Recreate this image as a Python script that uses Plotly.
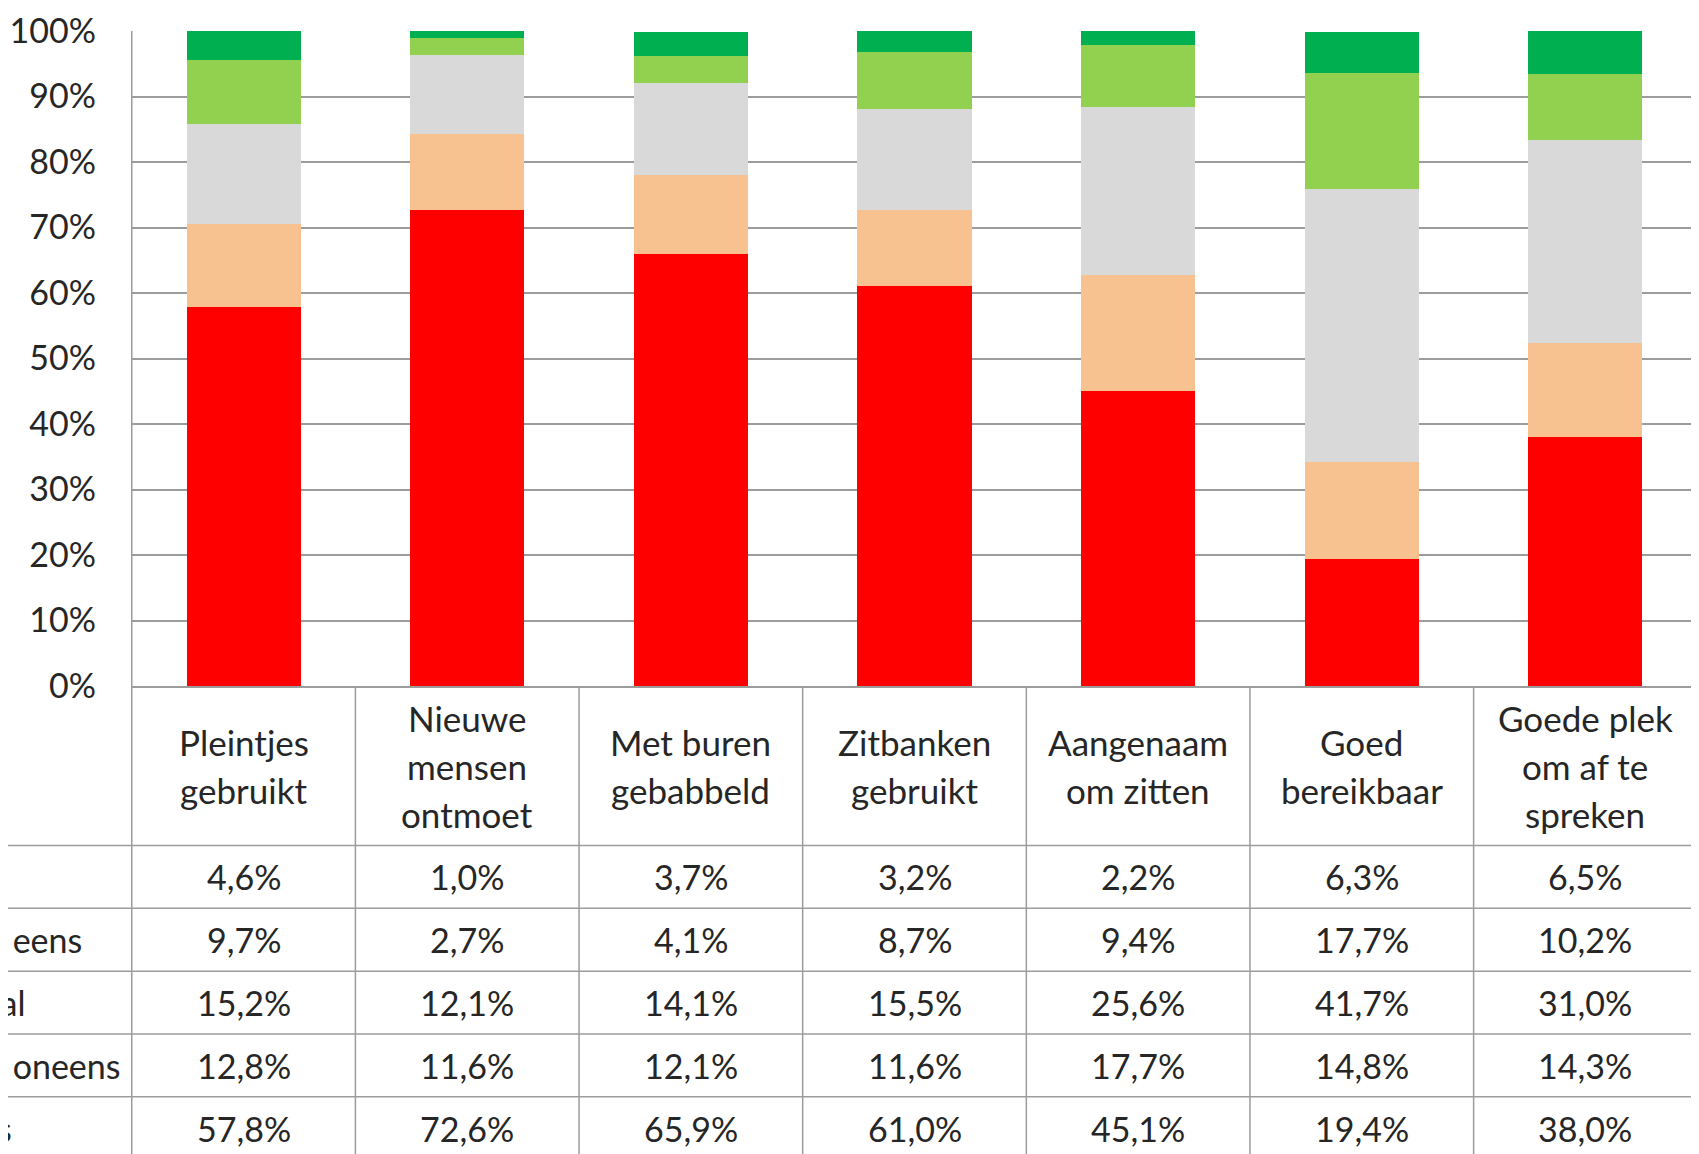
#!/usr/bin/env python3
# -*- coding: utf-8 -*-
"""
plot.py
100% gestapelde kolommen met gegevenstabel (Excel-stijl)
"""

import plotly.graph_objects as go

# gegevens
categories = [
    'Pleintjes gebruikt',
    'Nieuwe mensen ontmoet',
    'Met buren gebabbeld',
    'Zitbanken gebruikt',
    'Aangenaam om zitten',
    'Goed bereikbaar',
    'Goede plek om af te spreken',
]
header_lines = [
    ['Pleintjes', 'gebruikt'],
    ['Nieuwe', 'mensen', 'ontmoet'],
    ['Met buren', 'gebabbeld'],
    ['Zitbanken', 'gebruikt'],
    ['Aangenaam', 'om zitten'],
    ['Goed', 'bereikbaar'],
    ['Goede plek', 'om af te', 'spreken'],
]

# tabelrijen van boven naar onder
series_names = ['Helemaal eens', 'Mee eens', 'Neutraal', 'Mee oneens', 'Helemaal oneens']
helemaal_eens = [4.6, 1.0, 3.7, 3.2, 2.2, 6.3, 6.5]
mee_eens = [9.7, 2.7, 4.1, 8.7, 9.4, 17.7, 10.2]
neutraal = [15.2, 12.1, 14.1, 15.5, 25.6, 41.7, 31.0]
mee_oneens = [12.8, 11.6, 12.1, 11.6, 17.7, 14.8, 14.3]
helemaal_oneens = [57.8, 72.6, 65.9, 61.0, 45.1, 19.4, 38.0]

y_ticks = [0, 10, 20, 30, 40, 50, 60, 70, 80, 90, 100]

# stijl
COLORS = ['#00B050', '#92D050', '#D9D9D9', '#F8C190', '#FF0000']
GRID = '#9C9C9C'
TEXT = '#262626'
FONT = 'Lato, "Open Sans", sans-serif'
FS = 34
HFS = 35

# layout in paginapixels (de body heeft 8px marge)
OFF = 8
PAGE_W, PAGE_H = 1699, 1154
W, H = PAGE_W - OFF, PAGE_H - OFF
PLOT_L, PLOT_R, PLOT_T, PLOT_B = 131, 1698, 29, 686
HEADER_H = 160
ROW_H = 63
LINE_H = 48
# rechterkant van de (afgesneden) rijlabels
LABEL_RIGHT = [-12, 84, 27, 123, 14]


def py(pix):
    """pagina-y -> paper y"""
    return (PLOT_B - pix) / (PLOT_B - PLOT_T)


def px(pix):
    """pagina-x -> paper x"""
    return (pix - PLOT_L) / (PLOT_R - PLOT_L)


rows = [helemaal_eens, mee_eens, neutraal, mee_oneens, helemaal_oneens]

fig = go.Figure()

# stapel: onderste reeks eerst
for name, vals, color in reversed(list(zip(series_names, rows, COLORS))):
    fig.add_trace(go.Bar(
        x=categories,
        y=vals,
        name=name,
        marker=dict(color=color, line=dict(width=0)),
        hoverinfo='x+y+name',
    ))

shapes = []
annotations = []

# gegevenstabel
table_bottom = PLOT_B + HEADER_H + ROW_H * len(rows)
for i in range(len(categories) + 1):
    shapes.append(dict(
        type='line', xref='x', yref='paper',
        x0=i - 0.5, x1=i - 0.5,
        y0=1 if i == 0 else 0, y1=py(table_bottom + 10),
        line=dict(color=GRID, width=1.5),
    ))
for r in range(len(rows)):
    yy = py(PLOT_B + HEADER_H + ROW_H * r)
    shapes.append(dict(
        type='line', xref='paper', yref='paper',
        x0=px(0), x1=1, y0=yy, y1=yy,
        line=dict(color=GRID, width=1.5),
    ))

head_c = PLOT_B + HEADER_H / 2
for cat, lines in zip(categories, header_lines):
    n = len(lines)
    for k, line in enumerate(lines):
        annotations.append(dict(
            x=cat, y=py(head_c + (k - (n - 1) / 2) * LINE_H),
            xref='x', yref='paper',
            text=line, showarrow=False, xanchor='center', yanchor='middle',
            font=dict(family=FONT, size=HFS, color=TEXT),
        ))

for r, (name, vals) in enumerate(zip(series_names, rows)):
    yc = py(PLOT_B + HEADER_H + ROW_H * r + ROW_H / 2)
    annotations.append(dict(
        x=px(LABEL_RIGHT[r]), y=yc, xref='paper', yref='paper',
        text=name, showarrow=False, xanchor='right', yanchor='middle',
        font=dict(family=FONT, size=FS, color=TEXT),
    ))
    for cat, v in zip(categories, vals):
        annotations.append(dict(
            x=cat, y=yc, xref='x', yref='paper',
            text=f'{v:.1f}%'.replace('.', ','), showarrow=False,
            xanchor='center', yanchor='middle',
            font=dict(family=FONT, size=FS, color=TEXT),
        ))

fig.update_layout(
    barmode='stack',
    bargap=0.49,
    width=W,
    height=H,
    margin=dict(l=PLOT_L - OFF, r=PAGE_W - PLOT_R, t=PLOT_T - OFF,
                b=PAGE_H - PLOT_B, pad=0),
    paper_bgcolor='white',
    plot_bgcolor='white',
    showlegend=False,
    shapes=shapes,
    annotations=annotations,
    font=dict(family=FONT, size=FS, color=TEXT),
)

fig.update_xaxes(
    showticklabels=False,
    showgrid=False,
    showline=True,
    linecolor=GRID,
    linewidth=1.5,
    ticks='',
)

fig.update_yaxes(
    range=[0, 100],
    tickvals=y_ticks,
    ticktext=[f'{t}%' for t in y_ticks],
    showgrid=True,
    gridcolor=GRID,
    gridwidth=1.5,
    zeroline=False,
    showline=False,
    ticks='',
    ticklabelstandoff=34,
    ticklabeloverflow='allow',
    tickfont=dict(family=FONT, size=FS, color=TEXT),
)

fig.write_html("out.html")
